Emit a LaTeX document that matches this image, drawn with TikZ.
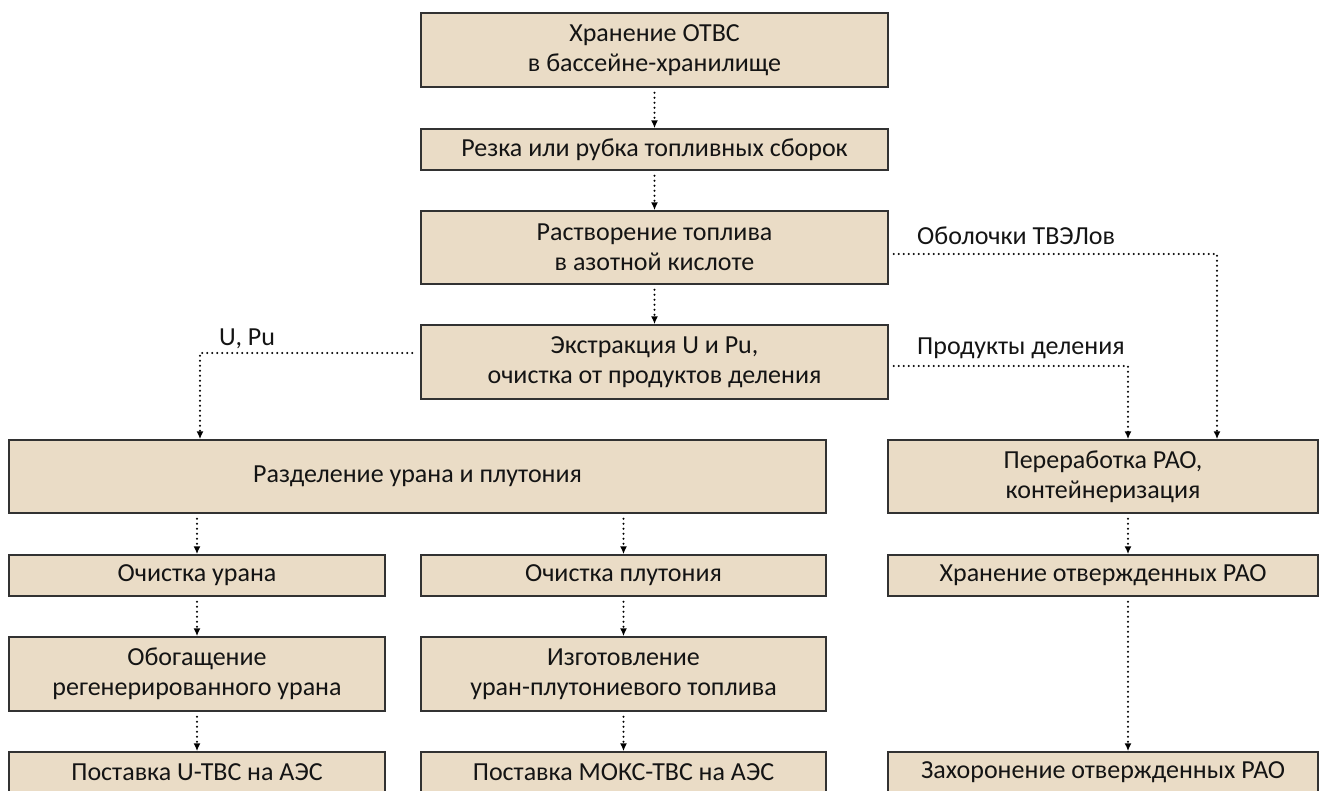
\documentclass[tikz,border=0pt]{standalone}
\usepackage{fontspec}
\setmainfont{Carlito}
\usetikzlibrary{arrows.meta}
\definecolor{boxfill}{RGB}{234,220,198}
\definecolor{boxline}{RGB}{50,50,50}
\definecolor{txt}{RGB}{20,20,20}
\begin{document}
\begin{tikzpicture}[x=1pt,y=-1pt,
  box/.style={draw=boxline, fill=boxfill, line width=1.5pt, inner sep=0pt, align=center,
    text=txt, font=\fontsize{26}{30}\selectfont},
  flow/.style={line width=2.3pt, dash pattern=on 0pt off 5pt, line cap=round,
    -{Latex[length=8pt,width=7pt]}},
  lbl/.style={anchor=base west, inner sep=0pt, text=txt, font=\fontsize{26}{30}\selectfont}]
\useasboundingbox (0,0) rectangle (1325,790);
\clip (0,0) rectangle (1325,790);
% main column
\node[box, minimum width=467pt, minimum height=74pt] (top) at (654.5,50) {Хранение ОТВС\\в бассейне-хранилище};
\node[box, minimum width=467pt, minimum height=41pt] (rez) at (654.5,149.5) {Резка или рубка топливных сборок};
\node[box, minimum width=467pt, minimum height=73pt] (rast) at (654.5,247.5) {Растворение топлива\\в азотной кислоте};
\node[box, minimum width=467pt, minimum height=74pt] (extr) at (654.5,362) {Экстракция U и Pu,\\очистка от продуктов деления};
% second level
\node[box, minimum width=817pt, minimum height=73pt] (sep) at (417.5,476.5) {Разделение урана и плутония};
\node[box, minimum width=430pt, minimum height=73pt] (rao) at (1103,476.5) {Переработка РАО,\\контейнеризация};
% third level
\node[box, minimum width=376pt, minimum height=41pt] (ou) at (197,575.5) {Очистка урана};
\node[box, minimum width=405pt, minimum height=41pt] (opu) at (623.5,575.5) {Очистка плутония};
\node[box, minimum width=430pt, minimum height=41pt] (hr) at (1103,575.5) {Хранение отвержденных РАО};
% fourth level
\node[box, minimum width=376pt, minimum height=74pt] (obog) at (197,674) {Обогащение\\регенерированного урана};
\node[box, minimum width=405pt, minimum height=74pt] (izg) at (623.5,674) {Изготовление\\уран-плутониевого топлива};
% bottom
\node[box, minimum width=376pt, minimum height=41pt] (post1) at (197,772.5) {Поставка U-ТВС на АЭС};
\node[box, minimum width=405pt, minimum height=41pt] (post2) at (623.5,772.5) {Поставка МОКС-ТВС на АЭС};
\node[box, minimum width=430pt, minimum height=41pt] (zah) at (1103,772.5) {Захоронение отвержденных РАО};
% labels
\node[lbl] (lob) at (917,244) {Оболочки ТВЭЛов};
\node[lbl] (lpr) at (917,354) {Продукты деления};
\node[lbl] (lu) at (219,345) {U, Pu};
% main chain
\draw[flow] (top.south) ++(0,5) -- (rez.north);
\draw[flow] (rez.south) ++(0,5) -- (rast.north);
\draw[flow] (rast.south) ++(0,5) -- (extr.north);
% branches
\coordinate (k1) at (1217,254);
\coordinate (k2) at (1128,366);
\coordinate (k3) at (200,353);
\draw[flow] (k1 -| rast.east) ++(5,0) -- (k1) -- (k1 |- rao.north);
\draw[flow] (k2 -| extr.east) ++(5,0) -- (k2) -- (k2 |- rao.north);
\draw[flow] (k3 -| extr.west) ++(-8,0) -- (k3) -- (k3 |- sep.north);
% lower levels
\draw[flow] (sep.south -| ou.north) ++(0,5) -- (ou.north);
\draw[flow] (sep.south -| opu.north) ++(0,5) -- (opu.north);
\draw[flow] (ou.south) ++(0,5) -- (obog.north);
\draw[flow] (opu.south) ++(0,5) -- (izg.north);
\draw[flow] (obog.south) ++(0,5) -- (post1.north);
\draw[flow] (izg.south) ++(0,5) -- (post2.north);
\coordinate (rx) at (1128,0);
\draw[flow] (rao.south -| rx) ++(0,5) -- (hr.north -| rx);
\draw[flow] (hr.south -| rx) ++(0,5) -- (zah.north -| rx);
\end{tikzpicture}
\end{document}
